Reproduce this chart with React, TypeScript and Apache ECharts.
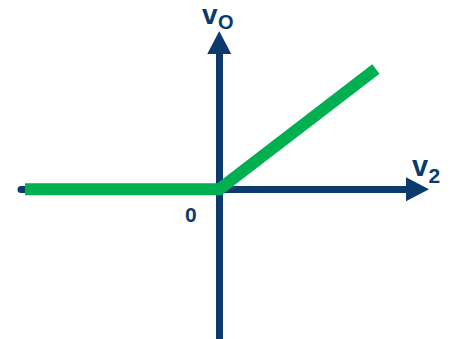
import React, { useEffect, useRef } from "react";
import * as echarts from "echarts";

// Transfer characteristic: v2 (input) vs vO (output)
const v2Values = [-9.8, 0, 7.9];
const voValues = [0, 0, 8.2];
const xRange = [-10, 10];
const yRange = [-10.2, 10];
const xAxisLabel = ["v", "2"];
const yAxisLabel = ["v", "O"];
const originLabel = "0";

const AXIS_COLOR = "#0b3a6c";
const LINE_COLOR = "#00b050";
const FONT = "'Liberation Sans', Arial, sans-serif";

export default function App() {
  const ref = useRef<HTMLDivElement>(null);
  useEffect(() => {
    if (!ref.current) return;
    const chart = echarts.init(ref.current, undefined, { renderer: "svg" });
    const axisCommon = {
      type: "value" as const,
      splitLine: { show: false },
      axisTick: { show: false },
      axisLabel: { show: false },
      axisLine: {
        show: true,
        onZero: true,
        symbol: ["none", "triangle"],
        symbolSize: [24, 23],
        lineStyle: { color: AXIS_COLOR, width: 7 },
      },
    };
    const txt = (text: string, x: number, y: number, size: number) => ({
      type: "text",
      x,
      y,
      style: {
        text,
        fill: AXIS_COLOR,
        font: `bold ${size}px ${FONT}`,
        lineHeight: Math.round(size * 0.75),
        textAlign: "left",
        textVerticalAlign: "middle",
      },
    });
    chart.setOption({
      animation: false,
      grid: { left: 21, right: 32.5, top: 42.5, bottom: 0 },
      xAxis: { ...axisCommon, min: xRange[0], max: xRange[1] },
      yAxis: { ...axisCommon, min: yRange[0], max: yRange[1] },
      series: [
        {
          type: "line",
          data: v2Values.map((x, i) => [x, voValues[i]]),
          symbol: "none",
          lineStyle: { color: LINE_COLOR, width: 12, cap: "butt", join: "miter" },
          z: 5,
        },
      ],
      graphic: [
        txt(yAxisLabel[0], 202, 14.5, 28),
        txt(yAxisLabel[1], 218, 22, 20),
        txt(xAxisLabel[0], 412, 166, 29),
        txt(xAxisLabel[1], 428.5, 175.6, 21),
        txt(originLabel, 185, 214.6, 21),
      ],
    });
    return () => chart.dispose();
  }, []);
  return (
    <div
      ref={ref}
      style={{ position: "absolute", left: 0, top: 0, width: 450, height: 339 }}
    />
  );
}
